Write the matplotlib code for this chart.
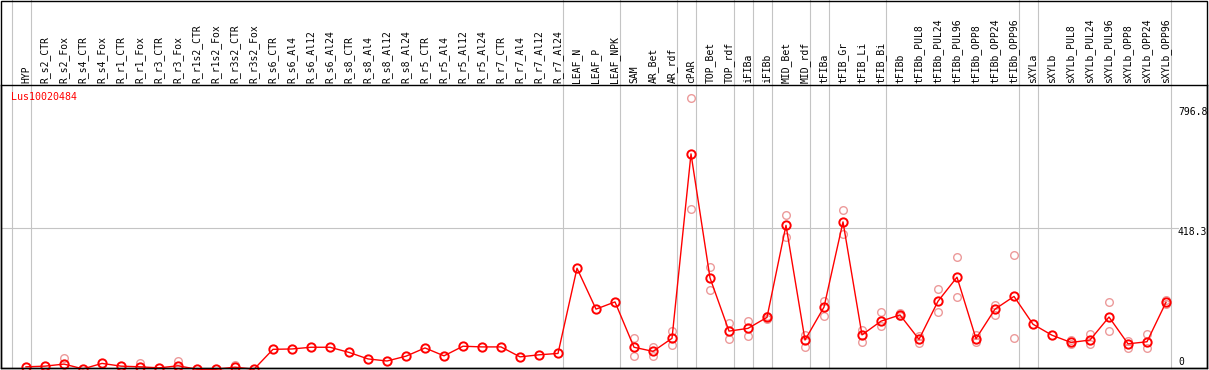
import numpy as np
import matplotlib
matplotlib.use("Agg")
import matplotlib.pyplot as plt
from matplotlib.patches import Rectangle
from matplotlib.transforms import blended_transform_factory

samples = [
    "HYP",
    "R_s2_CTR", "R_s2_Fox", "R_s4_CTR", "R_s4_Fox", "R_r1_CTR", "R_r1_Fox",
    "R_r3_CTR", "R_r3_Fox", "R_r1s2_CTR", "R_r1s2_Fox", "R_r3s2_CTR", "R_r3s2_Fox",
    "R_s6_CTR", "R_s6_Al4", "R_s6_Al12", "R_s6_Al24",
    "R_s8_CTR", "R_s8_Al4", "R_s8_Al12", "R_s8_Al24",
    "R_r5_CTR", "R_r5_Al4", "R_r5_Al12", "R_r5_Al24",
    "R_r7_CTR", "R_r7_Al4", "R_r7_Al12", "R_r7_Al24",
    "LEAF_N", "LEAF_P", "LEAF_NPK", "SAM", "AR_Bet", "AR_rdf", "cPAR",
    "TOP_Bet", "TOP_rdf", "iFIBa", "iFIBb", "MID_Bet", "MID_rdf",
    "tFIBa", "tFIB_Gr", "tFIB_Li", "tFIB_Bi",
    "tFIBb", "tFIBb_PUL8", "tFIBb_PUL24", "tFIBb_PUL96",
    "tFIBb_OPP8", "tFIBb_OPP24", "tFIBb_OPP96",
    "sXYLa", "sXYLb", "sXYLb_PUL8", "sXYLb_PUL24", "sXYLb_PUL96",
    "sXYLb_OPP8", "sXYLb_OPP24", "sXYLb_OPP96",
]

means = [
    15,
    17, 23, 9, 25, 17, 15, 12, 18, 8, 8, 14, 8,
    66, 67, 72, 72, 57, 38, 32, 46, 70, 47, 75, 73, 73, 44, 50, 54,
    302, 183, 204, 72, 60, 98, 635,
    274, 119, 127, 159, 427, 93,
    189, 437, 108, 148,
    166, 95, 206, 276, 97, 183, 220,
    139, 107, 86, 93, 160, 82, 88, 203,
]

nan = np.nan
rep_hi = [
    nan,
    nan, 41, nan, nan, nan, 25, nan, 33, nan, nan, 21, nan,
    nan, nan, nan, nan, nan, nan, nan, nan, nan, nan, nan, nan, nan, nan, nan, nan,
    nan, nan, nan, 98, 74, 120, 797,
    305, 142, 149, 163, 457, 108,
    208, 472, 122, 174,
    173, 106, 241, 334, 107, 195, 340,
    nan, nan, 93, 111, 204, 90, 111, 210,
]
rep_lo = [
    nan,
    nan, nan, nan, nan, nan, nan, nan, nan, nan, nan, nan, nan,
    nan, nan, nan, nan, nan, nan, nan, nan, nan, nan, nan, nan, nan, nan, nan, nan,
    nan, nan, nan, 46, 47, 79, 474,
    239, 95, 106, 154, 394, 74,
    163, 402, 86, 134,
    163, 84, 174, 217, 88, 166, 98,
    nan, nan, 82, 82, 118, 71, 69, 198,
]

# group separators sit just right of these sample indices
group_ends = [-1, 0, 28, 31, 34, 35, 37, 38, 39, 41, 42, 45, 52, 53, 60]
gene = "Lus10020484"
axis_marks = [796.8, 418.3, 0]

W, H = 1209, 370
fig = plt.figure(figsize=(W / 100, H / 100), dpi=100)

# plot box: x 1..1207 px, y 85..368 px (from top)
ax = fig.add_axes([1 / W, (H - 368) / H, 1206 / W, 283 / H])
x = np.arange(len(samples))
ax.set_xlim(-25 / 19, 1181 / 19)
ax.set_ylim(11.6, 835.5)
ax.set_xticks([])
ax.set_yticks([])
for s in ax.spines.values():
    s.set_linewidth(1.0)
    s.set_color("black")

gray = "#c4c4c4"
top_frac = 368 / 283
for g in group_ends:
    ax.axvline(g + 0.25, 0, top_frac, color=gray, lw=0.8, clip_on=False, zorder=1)
ax.axhline(418.3, 0, 1177 / 1206, color=gray, lw=0.8, zorder=1)

pink = "#ec9a9a"
for reps in (rep_hi, rep_lo):
    ax.plot(x, reps, ls="none", marker="o", ms=5.5, mfc="none", mec=pink,
            mew=1.0, clip_on=False, zorder=2)
ax.plot(x, means, color="red", lw=1.0, marker="o", ms=6, mfc="none",
        mec="red", mew=1.4, clip_on=False, zorder=3)

mono = "DejaVu Sans Mono"
trans = blended_transform_factory(ax.transData, ax.transAxes)
for i, name in enumerate(samples):
    ax.text(i, 1 + 2.5 / 283, name, transform=trans, rotation=90, ha="center",
            va="bottom", fontsize=7, family=mono, color="black", clip_on=False)

ax.text(10 / 1206, 1 - 12 / 283, gene, transform=ax.transAxes, ha="left",
        va="center", fontsize=7.2, family=mono, color="red")

# value labels at the right edge, nudged like the original
label_y = [111.7, 231.7, 361.7]
for v, py in zip(axis_marks, label_y):
    lab = f"{v:g}" if v else "0"
    fig.text(1178 / W, 1 - py / H, lab, ha="left", va="center", fontsize=7,
             family=mono, color="black")

fig.patches.append(Rectangle((1 / W, (H - 368) / H), 1206 / W, 367.5 / H,
                             transform=fig.transFigure, fill=False,
                             ec="black", lw=1.0))

fig.savefig("out.png", dpi=100, facecolor="white")
